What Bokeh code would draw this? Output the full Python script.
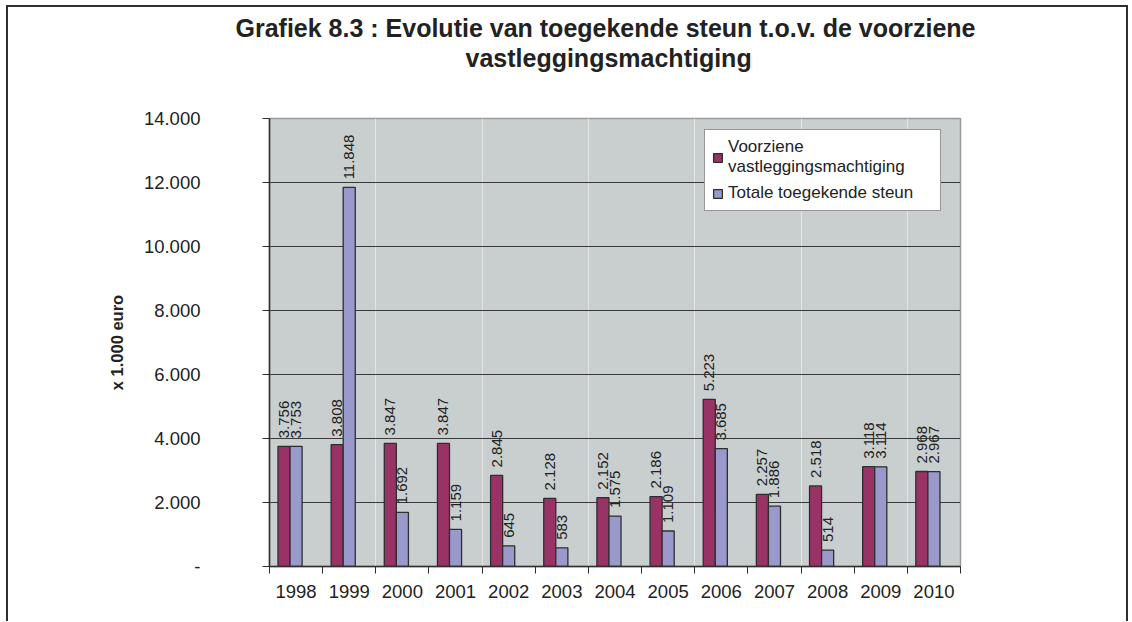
from math import pi
from bokeh.plotting import figure
from bokeh.models import (ColumnDataSource, Range1d, LinearAxis,
                          FixedTicker, Legend, LegendItem, Title, Grid)
from bokeh.transform import dodge
from bokeh.core.properties import value
from bokeh.embed import file_html
from bokeh.resources import INLINE

# ---------------- data ----------------
years = ["1998", "1999", "2000", "2001", "2002", "2003", "2004",
         "2005", "2006", "2007", "2008", "2009", "2010"]
voorziene = [3756, 3808, 3847, 3847, 2845, 2128, 2152, 2186, 5223, 2257, 2518, 3118, 2968]
toegekend = [3753, 11848, 1692, 1159, 645, 583, 1575, 1109, 3685, 1886, 514, 3114, 2967]
y_ticks = [0, 2000, 4000, 6000, 8000, 10000, 12000, 14000]
y_tick_labels = ["-", "2.000", "4.000", "6.000", "8.000", "10.000", "12.000", "14.000"]
series_names = ["Voorziene\nvastleggingsmachtiging", "Totale toegekende steun"]
title_lines = ["Grafiek 8.3 : Evolutie van toegekende steun t.o.v. de voorziene",
               "vastleggingsmachtiging"]
y_axis_title = "x 1.000 euro"


def fmt(v):
    return f"{v:,}".replace(",", ".")


n = len(years)
centers = [i + 0.5 for i in range(n)]          # category slots on the axis
edges = list(range(n + 1))                      # slot boundaries (tick marks)

src = ColumnDataSource(dict(x=centers, year=years, v1=voorziene, v2=toegekend,
                            l1=[fmt(v) for v in voorziene],
                            l2=[fmt(v) for v in toegekend]))

FONT = "Liberation Sans"
DARK = "#2e2e2e"
TXT = "#222222"
C1 = "#993366"
C2 = "#9999CC"
BW = 0.227

p = figure(width=1122, height=616,
           x_range=Range1d(0, n), y_range=Range1d(0, y_ticks[-1]),
           output_backend="svg", toolbar_location=None,
           x_axis_location=None, y_axis_location=None,
           min_border_left=261, min_border_right=170, min_border_top=111, min_border_bottom=57,
           background_fill_color="#C9CFCF", border_fill_color="white",
           outline_line_color="#9a9a9a", outline_line_width=1.5)
p.styles = {"margin-left": "6px", "margin-top": "5px",
            "border-left": "2px solid #2e2e2e", "border-top": "2px solid #2e2e2e",
            "border-right": "2px solid #2e2e2e"}

# grid
p.add_layout(Grid(dimension=1, ticker=FixedTicker(ticks=y_ticks[1:-1]),
                  grid_line_color="#3a3a3a", grid_line_width=1))

# y axis
yaxis = LinearAxis(ticker=FixedTicker(ticks=y_ticks),
                   major_label_overrides=dict(zip(y_ticks, y_tick_labels)),
                   axis_label=y_axis_title,
                   axis_label_text_font=FONT, axis_label_text_font_style="bold",
                   axis_label_text_font_size="16.5px", axis_label_text_color=TXT,
                   axis_label_standoff=15,
                   major_label_text_font=FONT, major_label_text_font_size="18.5px",
                   major_label_text_color=TXT, major_label_standoff=62,
                   major_tick_out=7, major_tick_in=0, major_tick_line_color=DARK,
                   minor_tick_line_color=None, axis_line_color=DARK, axis_line_width=1.5)
p.add_layout(yaxis, "left")

# x axis: labels at slot centres, tick marks at slot boundaries
xaxis = LinearAxis(ticker=FixedTicker(ticks=centers, minor_ticks=edges),
                   major_label_overrides=dict(zip(centers, years)),
                   major_tick_line_color=None,
                   minor_tick_out=7, minor_tick_in=0, minor_tick_line_color=DARK,
                   axis_line_color=DARK, axis_line_width=1.5,
                   major_label_text_font=FONT, major_label_text_font_size="18.5px",
                   major_label_text_color=TXT, major_label_standoff=11)
p.add_layout(xaxis, "below")

# bars
r1 = p.vbar(x=dodge("x", -BW), top="v1", width=BW, source=src,
            fill_color=C1, line_color=DARK, line_width=1.3)
r2 = p.vbar(x=dodge("x", 0.0), top="v2", width=BW, source=src,
            fill_color=C2, line_color=DARK, line_width=1.3)

# data labels
for col, lab, dx in (("v1", "l1", -BW), ("v2", "l2", 0.0)):
    p.text(x=dodge("x", dx), y=col, text=lab, source=src,
           angle=pi / 2, text_align="left", text_baseline="middle", y_offset=-8,
           text_font=value(FONT), text_font_size="15px", text_color=TXT)

# legend
legend = Legend(items=[LegendItem(label=series_names[0], renderers=[r1]),
                       LegendItem(label=series_names[1], renderers=[r2])],
                location=(435, 355), orientation="vertical",
                border_line_color=DARK, border_line_width=1.3,
                background_fill_color="white", background_fill_alpha=1.0,
                label_text_font=FONT, label_text_font_size="17px", label_text_color=TXT,
                glyph_width=11, glyph_height=11, label_standoff=5, spacing=6,
                padding=7, margin=0, label_width=205)
p.add_layout(legend)

# blank spacer between the plot area and the two-line title
spacer = Title(text=" ", standoff=43, text_font_size="1px", text_color="white")
p.add_layout(spacer, "above")

# titles
t2 = Title(text=title_lines[1], align="left", offset=196, standoff=1,
           text_font=FONT, text_font_size="25px", text_font_style="bold", text_color=TXT)
t1 = Title(text=title_lines[0], align="left", offset=-34, standoff=0,
           text_font=FONT, text_font_size="25px", text_font_style="bold", text_color=TXT)
p.add_layout(t2, "above")
p.add_layout(t1, "above")

open("out.html", "w").write(file_html(p, INLINE))
